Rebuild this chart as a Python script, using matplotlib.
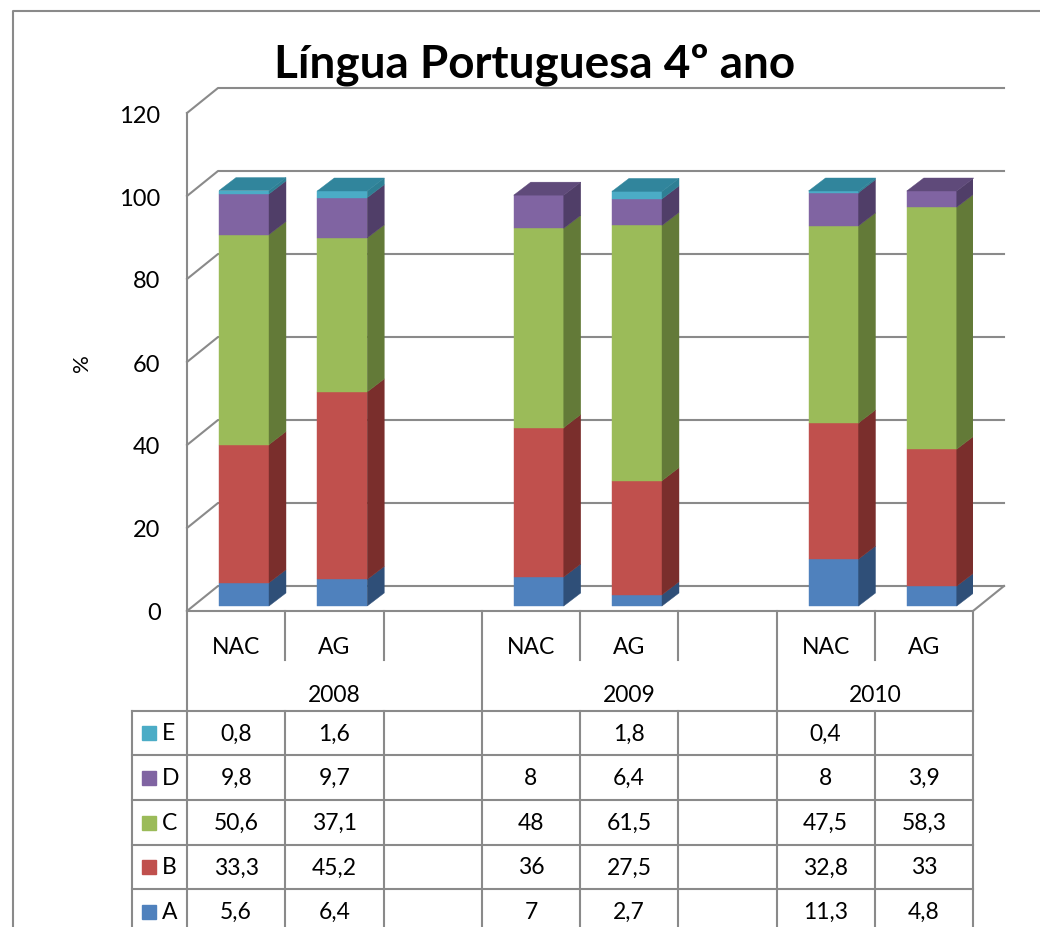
import matplotlib
matplotlib.use("Agg")
import matplotlib.pyplot as plt
from matplotlib.patches import Polygon, Rectangle
from matplotlib.lines import Line2D

plt.rcParams['font.family'] = ['Lato', 'DejaVu Sans']

title = "Língua Portuguesa 4º ano"
years = ["2008", "2009", "2010"]
groups = ["NAC", "AG"]
series = ["A", "B", "C", "D", "E"]
# um valor por coluna: 2008 NAC, 2008 AG, 2009 NAC, 2009 AG, 2010 NAC, 2010 AG
A = [5.6, 6.4, 7, 2.7, 11.3, 4.8]
B = [33.3, 45.2, 36, 27.5, 32.8, 33]
C = [50.6, 37.1, 48, 61.5, 47.5, 58.3]
D = [9.8, 9.7, 8, 6.4, 8, 3.9]
E = [0.8, 1.6, None, 1.8, 0.4, None]
yticks = [0, 20, 40, 60, 80, 100, 120]

front = ["#4F81BD", "#C0504D", "#9BBB59", "#8064A2", "#4BACC6"]
side = ["#2F4F78", "#7A2E2C", "#637A38", "#503E68", "#2E7F94"]
top = ["#3A62A0", "#943634", "#76923C", "#5F4A7A", "#31859C"]
grid = "#8A8A8A"

W, H = 1040, 928
fig = plt.figure(figsize=(W / 100, H / 100), dpi=100)

# moldura externa
fig.add_artist(Line2D([13 / W, 13 / W, 1], [0, 1 - 12 / H, 1 - 12 / H], color=grid, lw=1.5))

fig.text(535 / W, 1 - 65 / H, title, ha='center', va='center', fontsize=33, fontweight='bold')

# area do grafico (plano frontal)
y0, y120 = 612, 114
ax = fig.add_axes([187 / W, 1 - y0 / H, 786 / W, (y0 - y120) / H])
ax.set_xlim(0, 8)
ax.set_ylim(0, 120)
ax.set_xticks([])
ax.set_yticks(yticks)
ax.tick_params(axis='y', length=0, pad=19, labelsize=17)
for s in ax.spines.values():
    s.set_visible(False)
ax.patch.set_visible(False)
ax.set_ylabel('%', fontsize=16)
ax.yaxis.set_label_coords(-95 / 786, 0.5)

px = 8 / 786
py = 120 / (y0 - y120)
gx, gy = 31 * px, 25 * py   # profundidade das paredes
bx, by = 17 * px, 13 * py   # profundidade das barras
lift = 5 * py               # barras um pouco para dentro do piso

for v in yticks:
    ax.plot([0, gx, 8 + gx], [v, v + gy, v + gy], color=grid, lw=1.5, clip_on=False, zorder=1)
ax.plot([0, 0], [0, 120], color=grid, lw=1.5, clip_on=False, zorder=1)
ax.plot([0, 8, 8 + gx], [0, 0, gy], color=grid, lw=1.5, clip_on=False, zorder=1)

cols = [3 * i + j for i in range(len(years)) for j in range(len(groups))]
w = 50 / 98.25
for k, col in enumerate(cols):
    x0 = col + 32 / 98.25
    bottom = lift
    last = 0
    for s, vals in enumerate([A, B, C, D, E]):
        v = vals[k]
        if not v:
            continue
        ax.bar(x0, v, width=w, bottom=bottom, align='edge', color=front[s],
               edgecolor=front[s], lw=0.3, zorder=3)
        ax.add_patch(Polygon([(x0 + w, bottom), (x0 + w + bx, bottom + by),
                              (x0 + w + bx, bottom + v + by), (x0 + w, bottom + v)],
                             facecolor=side[s], edgecolor=side[s], lw=0.3, zorder=3))
        bottom += v
        last = s
    ax.add_patch(Polygon([(x0, bottom), (x0 + bx, bottom + by), (x0 + w + bx, bottom + by),
                          (x0 + w, bottom)], facecolor=top[last], edgecolor=top[last],
                         lw=0.3, zorder=3, clip_on=False))

# tabela de dados
tab = fig.add_axes([187 / W, 0, 786 / W, (H - 612) / H])
tab.set_xlim(0, 8)
tab.set_ylim(H - 612, 0)
tab.axis('off')
lk = dict(color=grid, lw=1.5, clip_on=False)
leg_x = -55 / 98.25
rows = [100, 144, 189, 234, 278, 323]

for x in [0, 3, 6, 8]:
    tab.plot([x, x], [0, 100], **lk)
for x in [1, 2, 4, 5, 7]:
    tab.plot([x, x], [0, 49], **lk)
for r in rows:
    tab.plot([leg_x, 8], [r, r], **lk)
for x in [leg_x] + list(range(9)):
    tab.plot([x, x], [100, 330], **lk)

fs = 16.5
for i, yr in enumerate(years):
    tab.text(3 * i + 1.5 if i < 2 else 7, 84, yr, ha='center', va='center', fontsize=fs)
    for j, g in enumerate(groups):
        tab.text(3 * i + j + 0.5, 35, g, ha='center', va='center', fontsize=fs)

for r, s in enumerate(reversed(range(len(series)))):
    yc = (rows[r] + rows[r + 1]) / 2
    tab.add_patch(Rectangle((-45 / 98.25, yc - 7), 14 / 98.25, 14, color=front[s], clip_on=False))
    tab.text(-25 / 98.25, yc, series[s], ha='left', va='center', fontsize=fs)
    vals = [A, B, C, D, E][s]
    for k, col in enumerate(cols):
        v = vals[k]
        if v is None:
            continue
        tab.text(col + 0.5, yc, f"{v:g}".replace(".", ","), ha='center', va='center', fontsize=fs)

fig.savefig("out.png", dpi=100)
